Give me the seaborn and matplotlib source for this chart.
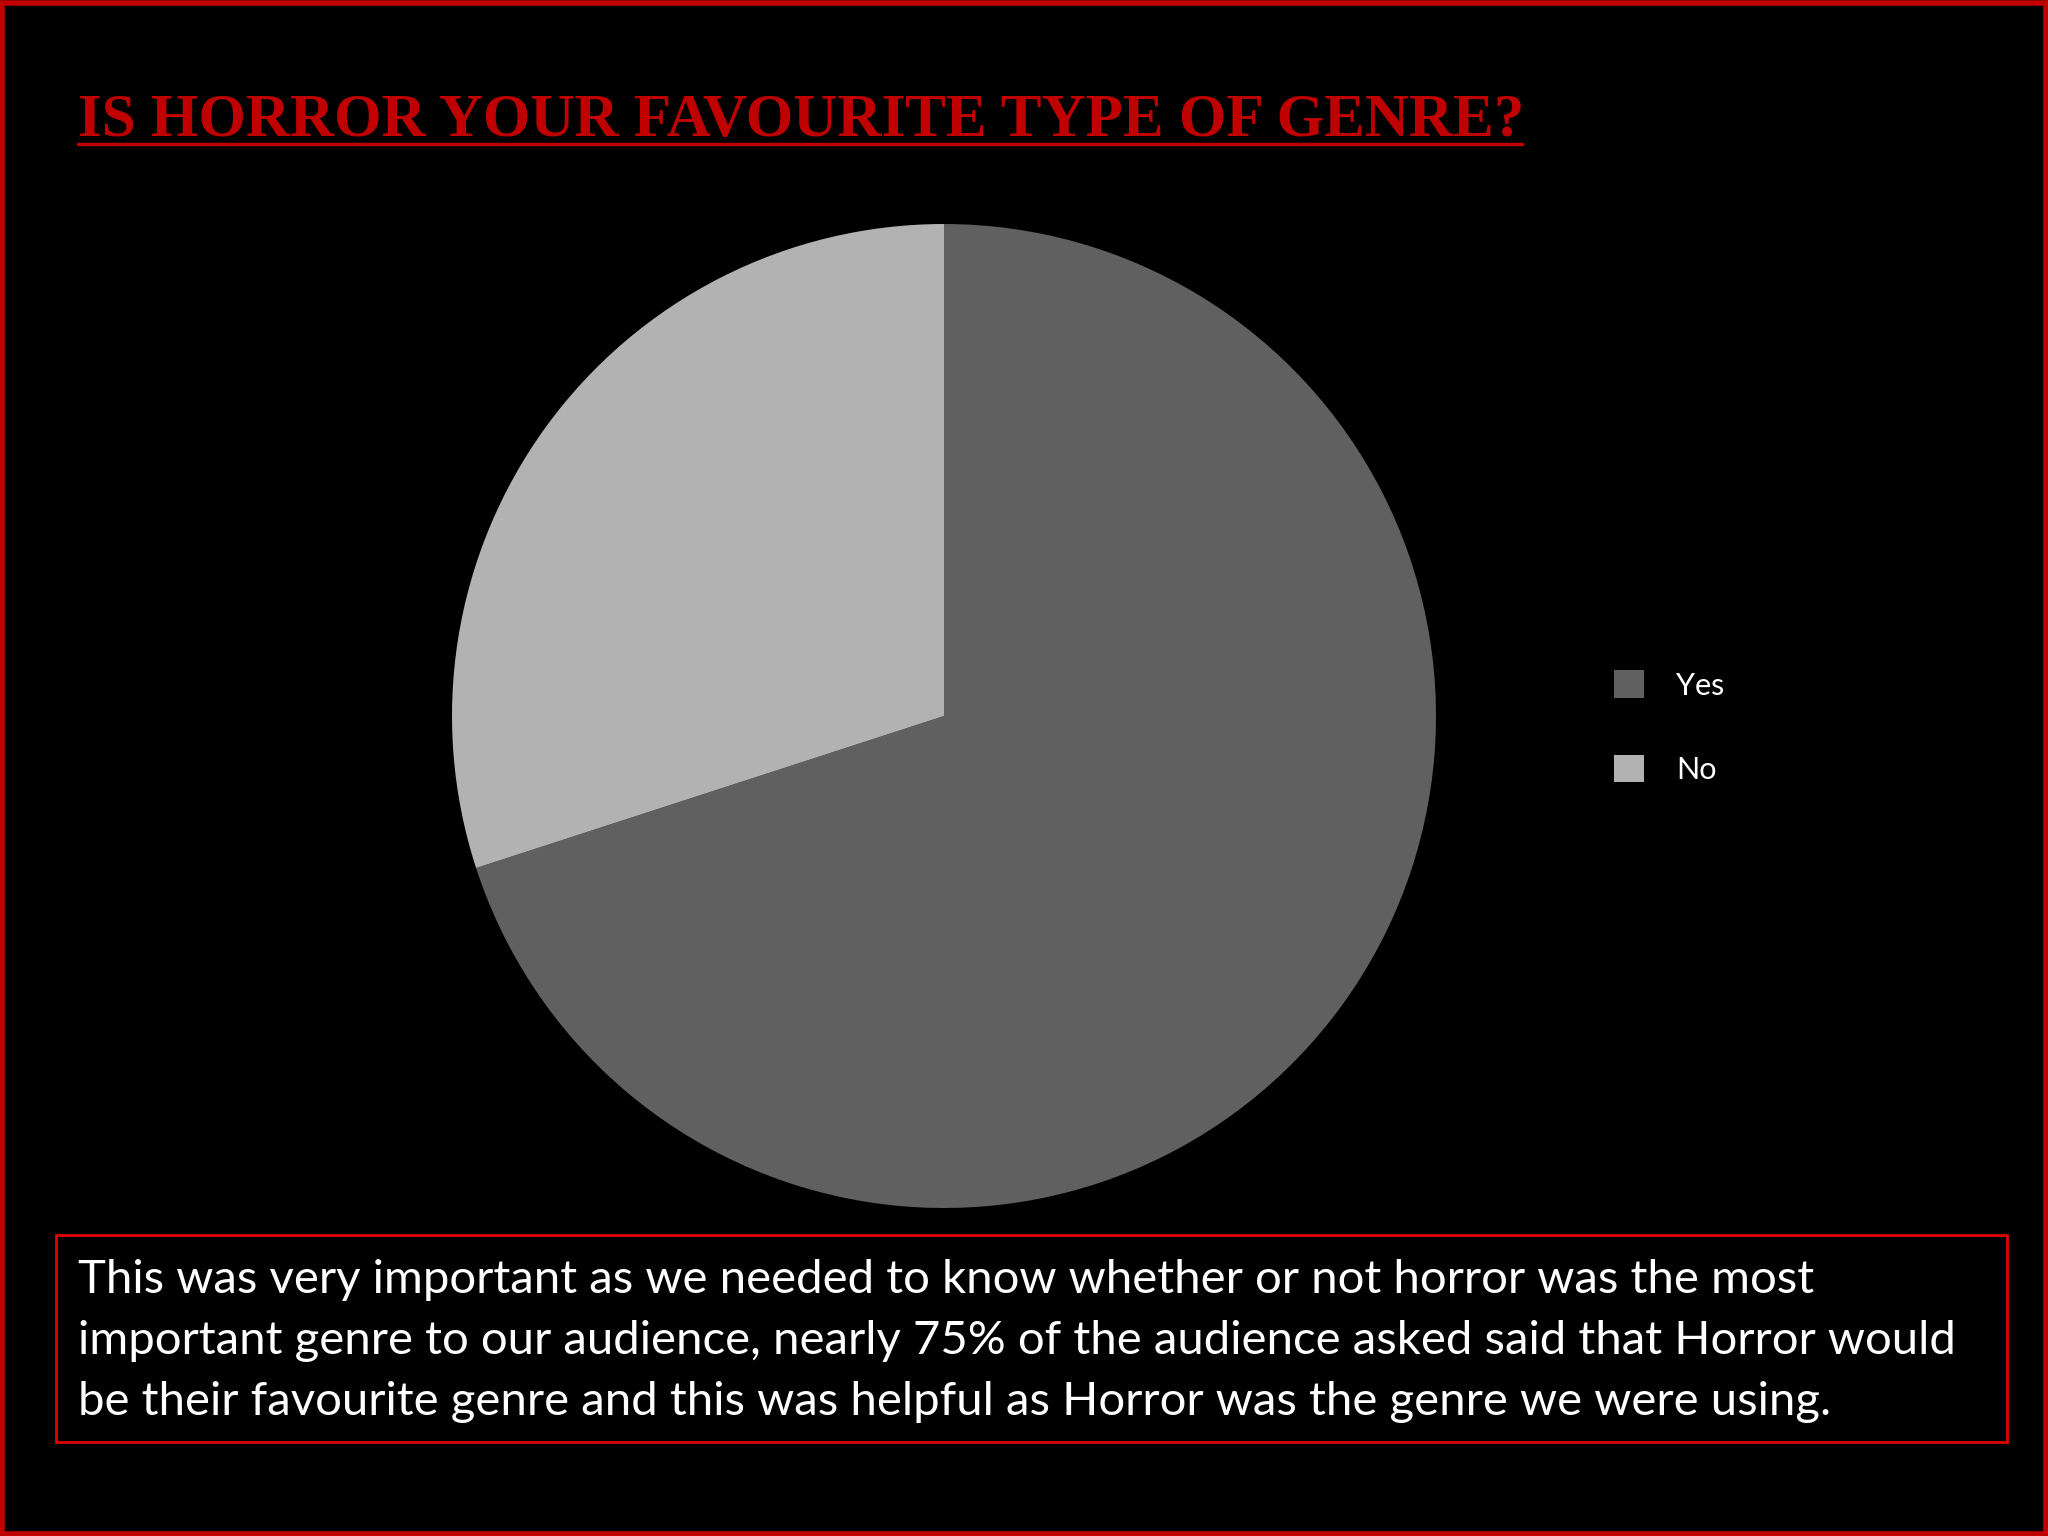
import matplotlib
matplotlib.use("Agg")
import matplotlib.pyplot as plt
import seaborn as sns
from matplotlib.patches import Rectangle

answers = ["Yes", "No"]
shares = [70, 30]
slice_colors = ["#5f605f", "#b1b2b1"]

title = "IS HORROR YOUR FAVOURITE TYPE OF GENRE?"
note_lines = [
    "This was very important as we needed to know whether or not horror was the most",
    "important genre to our audience, nearly 75% of the audience asked said that Horror would",
    "be their favourite genre and this was helpful as Horror was the genre we were using.",
]

sns.set_theme(style="dark")
plt.rcParams["font.family"] = ["Lato", "DejaVu Sans"]

W, H = 2048, 1536
fig = plt.figure(figsize=(W / 100, H / 100), dpi=100, facecolor="black")

# outer red frame
fig.add_artist(Rectangle((0.001, 0.001), 0.998, 0.997, transform=fig.transFigure,
                         fill=False, edgecolor="#c00000", linewidth=4))

# pie
cx, cy, r = 944, 716, 492
ax = fig.add_axes([(cx - r) / W, (H - cy - r) / H, 2 * r / W, 2 * r / H])
ax.set_facecolor("black")
wedges, _ = ax.pie(shares, colors=slice_colors, startangle=90, counterclock=False,
                   wedgeprops=dict(linewidth=0))
ax.set_xlim(-1, 1)
ax.set_ylim(-1, 1)
ax.set_aspect("equal")
ax.axis("off")

leg = fig.legend(wedges, answers, loc="center left",
                 bbox_to_anchor=(1586 / W, 1 - 727 / H), frameon=False,
                 fontsize=22, labelcolor="white", handlelength=1.0, handleheight=1.0,
                 handletextpad=1.05, labelspacing=1.8)

# title
fig.text(78 / W, 1 - 136 / H, title, color="#c00000", fontsize=44,
         fontfamily=["Liberation Serif", "DejaVu Serif"], fontweight="bold",
         ha="left", va="baseline")
fig.add_artist(plt.Line2D([78 / W, 1522 / W], [1 - 144 / H, 1 - 144 / H],
                          transform=fig.transFigure, color="#c00000", linewidth=2.5))

# note box
bx0, by0, bx1, by1 = 56, 1235, 2007, 1442
fig.add_artist(Rectangle((bx0 / W, 1 - by1 / H), (bx1 - bx0) / W, (by1 - by0) / H,
                         transform=fig.transFigure, fill=False,
                         edgecolor="#e00000", linewidth=2))
for i, line in enumerate(note_lines):
    fig.text(78 / W, 1 - (1293 + 61 * i) / H, line, color="white", fontsize=34,
             ha="left", va="baseline")

fig.savefig("out.png", dpi=100, facecolor="black")
